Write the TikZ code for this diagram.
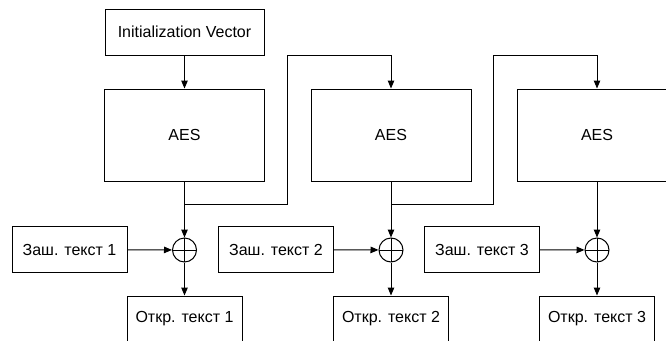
\documentclass[tikz,border=0pt]{standalone}
\usepackage{fontspec}
\setmainfont{Liberation Sans}
\usetikzlibrary{arrows.meta,positioning}

\begin{document}
\begin{tikzpicture}[x=1pt,y=-1pt,>={Triangle[length=8pt,width=6.5pt]},
		every node/.style={font=\fontsize{16}{19}\selectfont},
		block/.style={draw,line width=1pt,minimum width=160pt,minimum height=92pt,inner sep=0pt},
		iobox/.style={draw,line width=1pt,minimum width=115pt,minimum height=46pt,inner sep=0pt},
		xorop/.style={draw,circle,line width=1pt,minimum size=24pt,inner sep=0pt,
			path picture={\draw[line width=1pt] (path picture bounding box.north)--(path picture bounding box.south)
				(path picture bounding box.west)--(path picture bounding box.east);}},
		link/.style={line width=1pt}]
	\useasboundingbox (0,0) rectangle (666,340);
	\clip (0,0) rectangle (666,340);
	\node[iobox,minimum width=159pt] (iv) at (184.5,32) {Initialization Vector};
	\node[block] (aes1) at (184.5,135) {AES};
	\node[block] (aes2) at (391,135) {AES};
	\node[block] (aes3) at (597,135) {AES};
	\node[xorop] (x1) at (184.5,250) {};
	\node[xorop] (x2) at (391,250) {};
	\node[xorop] (x3) at (597,250) {};
	\node[iobox] (c1) at (69.5,249.5) {Заш. текст 1};
	\node[iobox] (c2) at (276,249.5) {Заш. текст 2};
	\node[iobox] (c3) at (482,249.5) {Заш. текст 3};
	\node[iobox] (p1) at (184.5,319) {Откр. текст 1};
	\node[iobox] (p2) at (391,319) {Откр. текст 2};
	\node[iobox] (p3) at (597,319) {Откр. текст 3};
	\coordinate (t1) at (184.5,204);
	\coordinate (t2) at (391,204);
	\coordinate (u1) at (287,55);
	\coordinate (u2) at (493,55);
	\draw[link,->] (iv)--(aes1);
	\foreach \i in {1,2,3}
	{\draw[link,->] (aes\i)--(x\i);
		\draw[link,->] (c\i)--(x\i);
		\draw[link,->] (x\i)--(p\i);}
	\draw[link,->] (t1)-|(u1)-|(aes2.north);
	\draw[link,->] (t2)-|(u2)-|(aes3.north);
\end{tikzpicture}
\end{document}
